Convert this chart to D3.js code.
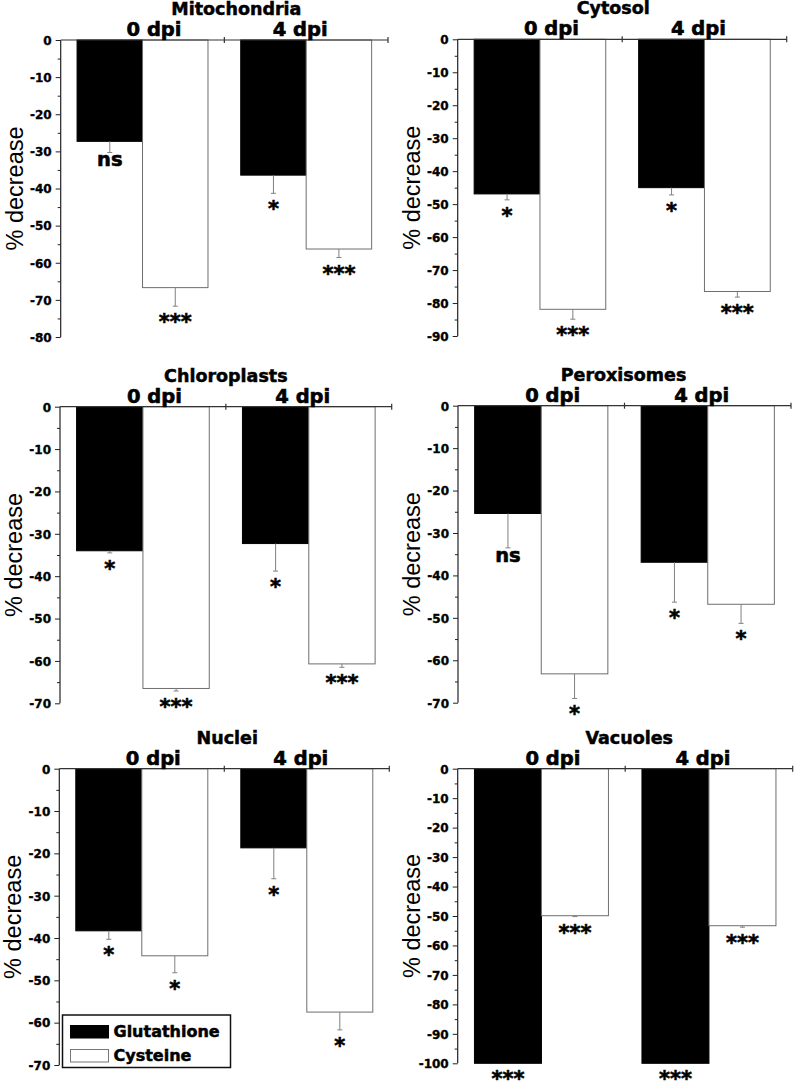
<!DOCTYPE html>
<html><head><meta charset="utf-8">
<script src="https://cdn.jsdelivr.net/npm/d3@7/dist/d3.min.js"></script>
<style>body{margin:0;background:#fff} svg{display:block}</style>
</head><body>
<svg id="c" width="796" height="1082"></svg>
<script>
// ---- data ----
const panelNames = ["Mitochondria", "Cytosol", "Chloroplasts", "Peroxisomes", "Nuclei", "Vacuoles"];
const groups = ["0 dpi", "4 dpi"];
const series = ["Glutathione", "Cysteine"];
const yMin = [-80, -90, -70, -70, -70, -100];
// mean % decrease per panel, [0 dpi, 4 dpi]
const glutathione = [[-27.3, -36.4], [-46.9, -45.0], [-34.0, -32.3], [-25.4, -36.9], [-38.3, -18.7], [-100, -100]];
const cysteine    = [[-66.7, -56.3], [-81.9, -76.5], [-66.5, -60.7], [-63.2, -46.8], [-44.2, -57.5], [-49.9, -53.3]];
// error bar magnitudes
const glutathioneErr = [[3.0, 4.9], [1.8, 2.2], [0.5, 6.5], [8.1, 9.4], [2.0, 7.3], [0, 0]];
const cysteineErr    = [[5.0, 2.3], [3.0, 1.7], [0.6, 0.8], [5.8, 4.5], [4.0, 4.2], [0.3, 0.5]];
// significance labels
const glutathioneSig = [["ns", "*"], ["*", "*"], ["*", "*"], ["ns", "*"], ["*", "*"], ["***", "***"]];
const cysteineSig    = [["***", "***"], ["***", "***"], ["***", "***"], ["*", "*"], ["*", "*"], ["***", "***"]];

// ---- layout (positions only) ----
const layout = [
  {x: 60.7, y: 40,    w: 327.3, h: 297,   tdx: 12},
  {x: 457.7, y: 39.3, w: 329,   h: 296.7, tdx: -9},
  {x: 60,   y: 406.7, w: 331.7, h: 296.6, tdx: 0},
  {x: 458,  y: 405.7, w: 333,   h: 297,   tdx: -1},
  {x: 59.3, y: 768.7, w: 330,   h: 296.3, tdx: 3},
  {x: 457.7, y: 768.7, w: 335,  h: 294.6, tdx: 4}
];
const BOLD = "'DejaVu Sans', sans-serif";
const REG = "'Liberation Sans', Arial, sans-serif";
const svg = d3.select("#c");

function boldText(sel, size, sw) {
  return sel.attr("font-family", BOLD).attr("font-weight", "bold").attr("font-size", size)
    .attr("fill", "#000").attr("stroke", "#000").attr("stroke-width", sw);
}

layout.forEach((L, i) => {
  const g = svg.append("g").attr("transform", `translate(${L.x},${L.y})`);
  const y = d3.scaleLinear().domain([0, yMin[i]]).range([0, L.h]);
  const x0 = d3.scaleBand().domain(groups).range([0, L.w]);
  const bw = x0.bandwidth();
  const x1 = d3.scaleBand().domain(series).range([bw * 0.1, bw * 0.9]);

  const vals = [glutathione[i], cysteine[i]];
  const errs = [glutathioneErr[i], cysteineErr[i]];
  const sigs = [glutathioneSig[i], cysteineSig[i]];

  const items = [];
  groups.forEach((gr, gi) => series.forEach((s, si) => {
    items.push({gr, s, si, v: vals[si][gi], e: errs[si][gi], sig: sigs[si][gi]});
  }));

  // bars
  g.selectAll("rect.bar").data(items).enter().append("rect")
    .attr("x", d => x0(d.gr) + x1(d.s))
    .attr("y", y(0))
    .attr("width", x1.bandwidth())
    .attr("height", d => y(d.v) - y(0))
    .attr("fill", d => d.si === 0 ? "#000" : "#fff")
    .attr("stroke", d => d.si === 0 ? "#000" : "#6e6e6e")
    .attr("stroke-width", 1);

  // error bars
  const cx = d => x0(d.gr) + x1(d.s) + x1.bandwidth() / 2;
  const eb = g.selectAll("g.err").data(items.filter(d => d.e > 0)).enter().append("g");
  eb.append("line")
    .attr("x1", cx).attr("x2", cx)
    .attr("y1", d => y(d.v)).attr("y2", d => y(d.v - d.e))
    .attr("stroke", "#808080").attr("stroke-width", 1);
  eb.append("line")
    .attr("x1", d => cx(d) - 2.5).attr("x2", d => cx(d) + 2.5)
    .attr("y1", d => y(d.v - d.e)).attr("y2", d => y(d.v - d.e))
    .attr("stroke", "#808080").attr("stroke-width", 1);

  // significance labels
  boldText(g.selectAll("text.sig").data(items).enter().append("text"), 20, 0.6)
    .attr("x", cx)
    .attr("y", d => y(d.v - d.e) + (d.sig === "ns" ? 14 : 23))
    .attr("text-anchor", "middle")
    .attr("font-size", d => d.sig === "ns" ? 19.5 : 21)
    .text(d => d.sig);

  // y axis: major + minor ticks
  const major = d3.range(0, yMin[i] - 1, -10);
  const minor = d3.range(-5, yMin[i], -10);
  const ax = g.append("g").call(d3.axisLeft(y).tickValues(major).tickSize(5).tickPadding(4).tickFormat(d => String(d)));
  ax.select(".domain").remove();
  ax.selectAll("line").attr("stroke", "#222");
  boldText(ax.selectAll("text"), 12, 0.35).attr("dy", "0.36em");
  const axm = g.append("g").call(d3.axisLeft(y).tickValues(minor).tickSize(3).tickFormat(""));
  axm.select(".domain").remove();
  axm.selectAll("line").attr("stroke", "#222");
  g.append("line").attr("x1", 0).attr("x2", 0).attr("y1", y(0)).attr("y2", y(yMin[i]))
    .attr("stroke", "#222").attr("stroke-width", 1.2);

  // top x axis with crossing ticks
  g.append("line").attr("x1", 0).attr("x2", L.w).attr("y1", 0).attr("y2", 0)
    .attr("stroke", "#333").attr("stroke-width", 1.2);
  [x0(groups[1]), L.w].forEach(tx => {
    g.append("line").attr("x1", tx).attr("x2", tx).attr("y1", -3).attr("y2", 3)
      .attr("stroke", "#333").attr("stroke-width", 1.2);
  });

  // group labels
  const gdx = [11.5, -6];
  groups.forEach((gr, gi) => {
    boldText(g.append("text"), 19.5, 0.6).attr("x", x0(gr) + bw / 2 + gdx[gi]).attr("y", -4)
      .attr("text-anchor", "middle").text(gr);
  });

  // title
  boldText(g.append("text"), 17.5, 0.5).attr("x", L.w / 2 + L.tdx).attr("y", -25)
    .attr("text-anchor", "middle").text(panelNames[i]);

  // y label
  g.append("text").attr("transform", `translate(-38,${L.h / 2}) rotate(-90)`)
    .attr("text-anchor", "middle").attr("font-family", REG)
    .attr("font-size", 23.5).attr("fill", "#000").text("% decrease");
});

// legend (inside Nuclei panel)
const lg = svg.append("g").attr("transform", "translate(62.5,1015)");
lg.append("rect").attr("width", 168).attr("height", 52.5).attr("fill", "#fff")
  .attr("stroke", "#111").attr("stroke-width", 1.5);
series.forEach((s, si) => {
  lg.append("rect").attr("x", 8).attr("y", 10.5 + si * 24).attr("width", 38).attr("height", 12.5)
    .attr("fill", si === 0 ? "#000" : "#fff").attr("stroke", si === 0 ? "#000" : "#777").attr("stroke-width", 1);
  boldText(lg.append("text"), 16, 0.5).attr("x", 51).attr("y", 22 + si * 23.5).text(s);
});
</script>
</body></html>
